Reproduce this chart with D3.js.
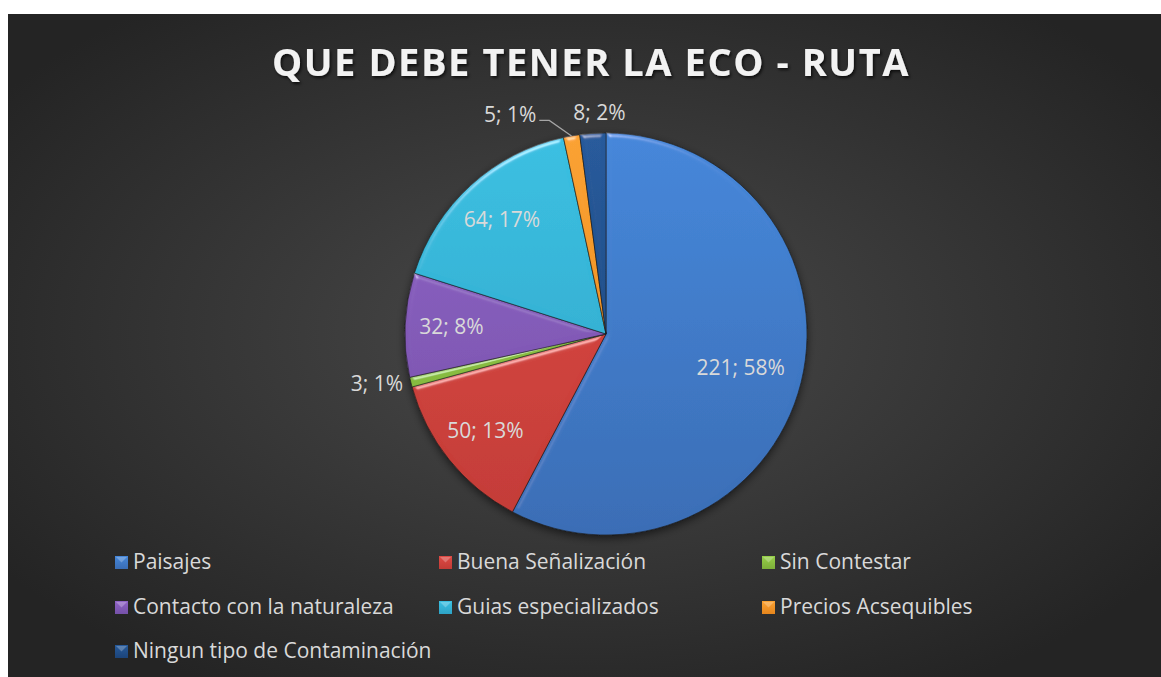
<!DOCTYPE html>
<html>
<head>
<meta charset="utf-8">
<script src="https://cdn.jsdelivr.net/npm/d3@7/dist/d3.min.js"></script>
<style>
  html, body { margin: 0; padding: 0; background: #fff; }
  svg { display: block; }
</style>
</head>
<body>
<div id="chart"></div>
<script>
// data
const categories = ["Paisajes", "Buena Señalización", "Sin Contestar",
  "Contacto con la naturaleza", "Guias especializados", "Precios Acsequibles",
  "Ningun tipo de Contaminación"];
const values = [221, 50, 3, 32, 64, 5, 8];
const title = "QUE DEBE TENER LA ECO - RUTA";

const colorsTop = ["#4587da", "#de4a44", "#96cf48", "#8f62c6", "#3ac0e2", "#fba232", "#265a9b"];
const colorsBot = ["#3a6db5", "#c23b36", "#7cae39", "#7551a8", "#2ea3c6", "#e6861d", "#1c4479"];

const W = 1161, H = 677;
const cx = 606, cy = 334, R = 201;

const svg = d3.select("#chart").append("svg")
  .attr("width", W)
  .attr("height", H);

const defs = svg.append("defs");

// background
let bg = defs.append("radialGradient")
  .attr("id", "bg")
  .attr("cx", "50%").attr("cy", "48%").attr("r", "62%");
bg.append("stop").attr("offset", "0%").attr("stop-color", "#4a4a4a");
bg.append("stop").attr("offset", "100%").attr("stop-color", "#242424");

svg.append("rect")
  .attr("x", 8).attr("y", 14)
  .attr("width", W - 8).attr("height", H - 14)
  .attr("fill", "url(#bg)");

// slice gradients
categories.forEach((c, i) => {
  let g = defs.append("linearGradient")
    .attr("id", "sl" + i)
    .attr("gradientUnits", "userSpaceOnUse")
    .attr("x1", 0).attr("y1", -R).attr("x2", 0).attr("y2", R);
  g.append("stop").attr("offset", "0%").attr("stop-color", colorsTop[i]);
  g.append("stop").attr("offset", "100%").attr("stop-color", colorsBot[i]);

  let m = defs.append("linearGradient")
    .attr("id", "lg" + i)
    .attr("x1", 0).attr("y1", 0).attr("x2", 0).attr("y2", 1);
  m.append("stop").attr("offset", "0%").attr("stop-color", colorsTop[i]);
  m.append("stop").attr("offset", "100%").attr("stop-color", colorsBot[i]);
});

// bevel look for the slices
let bevel = defs.append("filter").attr("id", "bevel")
  .attr("x", "-10%").attr("y", "-10%").attr("width", "120%").attr("height", "120%");
bevel.append("feGaussianBlur").attr("in", "SourceAlpha").attr("stdDeviation", 2.5).attr("result", "blur");
let spec = bevel.append("feSpecularLighting")
  .attr("in", "blur").attr("surfaceScale", 3).attr("specularConstant", 0.6)
  .attr("specularExponent", 40).attr("lighting-color", "#ffffff").attr("result", "spec");
spec.append("feDistantLight").attr("azimuth", 250).attr("elevation", 35);
bevel.append("feComposite").attr("in", "spec").attr("in2", "SourceAlpha").attr("operator", "in").attr("result", "specIn");
bevel.append("feComposite").attr("in", "SourceGraphic").attr("in2", "specIn")
  .attr("operator", "arithmetic").attr("k1", 0).attr("k2", 1).attr("k3", 0.6).attr("k4", 0);

let shadow = defs.append("filter").attr("id", "shadow")
  .attr("x", "-10%").attr("y", "-10%").attr("width", "120%").attr("height", "130%");
shadow.append("feDropShadow").attr("dx", 0).attr("dy", 3).attr("stdDeviation", 4)
  .attr("flood-color", "#000").attr("flood-opacity", 0.55);

let tshadow = defs.append("filter").attr("id", "tshadow")
  .attr("x", "-5%").attr("y", "-20%").attr("width", "110%").attr("height", "150%");
tshadow.append("feDropShadow").attr("dx", 1.5).attr("dy", 2).attr("stdDeviation", 1.5)
  .attr("flood-color", "#000").attr("flood-opacity", 0.7);

// title
let t = svg.append("text")
  .attr("x", 591).attr("y", 76)
  .attr("text-anchor", "middle")
  .attr("font-family", "'Open Sans', sans-serif")
  .attr("font-weight", 700)
  .attr("font-size", 38)
  .attr("fill", "#f2f2f2")
  .attr("filter", "url(#tshadow)")
  .text(title);
let natural = t.node().getComputedTextLength();
t.attr("letter-spacing", (638 - natural) / title.length);

// pie
const total = d3.sum(values);
const pie = d3.pie().sort(null).value(d => d)(values);
const arc = d3.arc().innerRadius(0).outerRadius(R);

const g = svg.append("g").attr("transform", `translate(${cx},${cy})`);

const slices = g.append("g").attr("filter", "url(#shadow)");
slices.selectAll("path")
  .data(pie)
  .enter()
  .append("path")
  .attr("d", arc)
  .attr("fill", (d, i) => `url(#sl${i})`)
  .attr("stroke", "#1a1a1a")
  .attr("stroke-opacity", 0.6)
  .attr("stroke-width", 1)
  .attr("filter", "url(#bevel)");

const labelFont = "'Open Sans', sans-serif";
const labelColor = "#d9d9d9";
const fmt = (v) => `${v}; ${Math.round(v / total * 100)}%`;

pie.forEach((d, i) => {
  let mid = (d.startAngle + d.endAngle) / 2;
  let share = d.value / total;
  let text = g.append("text")
    .attr("font-family", labelFont)
    .attr("font-size", 21)
    .attr("fill", labelColor)
    .attr("dy", "0.35em")
    .text(fmt(d.value));
  if (share >= 0.05) {
    let k = i === 0 ? 0.69 : 0.77;
    text.attr("x", Math.sin(mid) * R * k)
      .attr("y", -Math.cos(mid) * R * k)
      .attr("text-anchor", "middle");
  } else if (i === 5) {
    // leader line label
    let p0 = [Math.sin(mid) * R, -Math.cos(mid) * R];
    let a1 = mid - 5 * Math.PI / 180;
    let p1 = [Math.sin(a1) * (R + 20), -Math.cos(a1) * (R + 20)];
    let p2 = [p1[0] - 10, p1[1]];
    g.append("path")
      .attr("d", d3.line()([p0, p1, p2]))
      .attr("fill", "none")
      .attr("stroke", "#a6a6a6")
      .attr("stroke-width", 1.2);
    text.attr("x", p2[0] - 3).attr("y", p2[1] - 6).attr("text-anchor", "end");
  } else if (i === 6) {
    text.attr("x", Math.sin(mid) * (R + 21) + 8)
      .attr("y", -Math.cos(mid) * (R + 21))
      .attr("text-anchor", "middle");
  } else {
    text.attr("x", Math.sin(mid) * (R + 8))
      .attr("y", -Math.cos(mid) * (R + 8))
      .attr("text-anchor", "end");
  }
});

// legend
const legendCols = [115, 439, 762];
const legendRows = [562, 607, 651];
const legend = svg.append("g");
categories.forEach((c, i) => {
  let x = legendCols[i % 3];
  let y = legendRows[Math.floor(i / 3)];
  let item = legend.append("g").attr("transform", `translate(${x},${y})`);
  item.append("rect")
    .attr("x", 0).attr("y", -6)
    .attr("width", 13).attr("height", 13)
    .attr("fill", `url(#lg${i})`);
  item.append("path")
    .attr("d", "M1,-5 L12,-5 L6.5,0.5 Z")
    .attr("fill", "#ffffff")
    .attr("opacity", 0.25);
  item.append("text")
    .attr("x", 18).attr("y", 0)
    .attr("dy", "0.35em")
    .attr("font-family", labelFont)
    .attr("font-size", 21)
    .attr("fill", labelColor)
    .text(c);
});
</script>
</body>
</html>
